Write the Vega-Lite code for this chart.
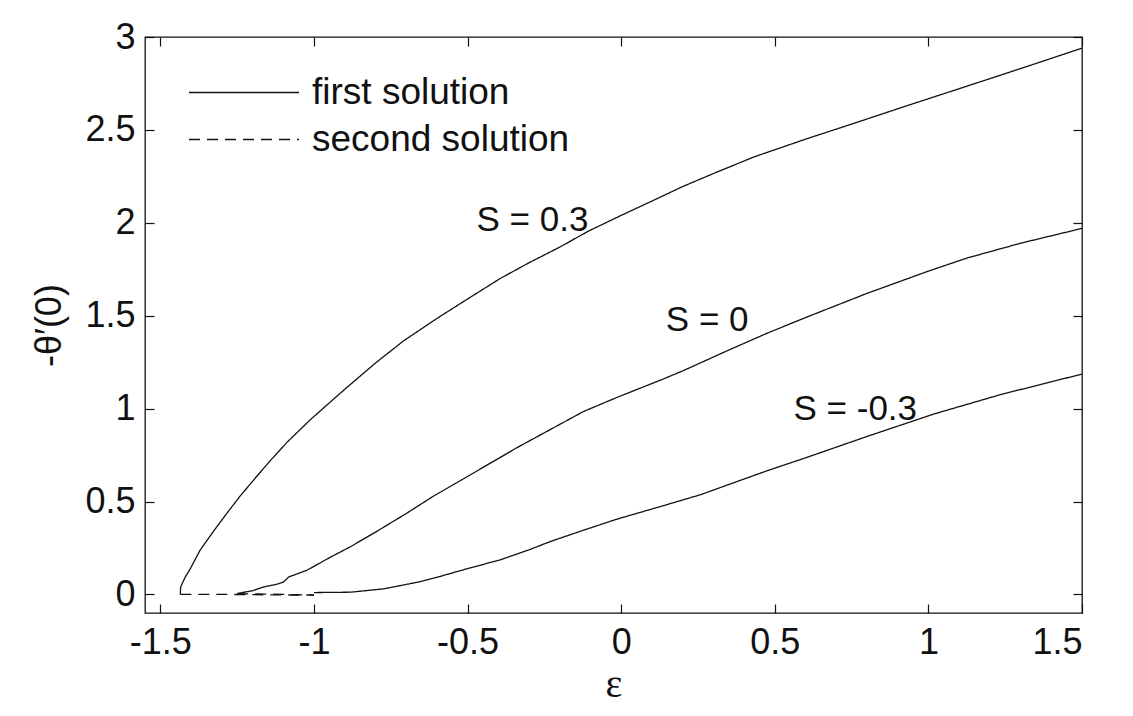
{
  "$schema": "https://vega.github.io/schema/vega-lite/v6.json",
  "width": 937,
  "height": 576,
  "autosize": "none",
  "padding": {"left": 145, "top": 37, "right": 51, "bottom": 103},
  "background": "white",
  "config": {
    "view": {"stroke": "#111111", "strokeWidth": 1.3},
    "font": "Liberation Sans",
    "axis": {
      "domain": false,
      "grid": false,
      "tickColor": "#111111",
      "tickWidth": 1.2,
      "tickSize": -9,
      "labelFont": "Liberation Sans",
      "labelFontSize": 36,
      "labelColor": "#111111",
      "titleColor": "#111111",
      "titleFontWeight": "normal"
    }
  },
  "datasets": {
    "curves": [
      {"series": "S=0.3 first", "solution": "first solution", "eps": -1.435, "theta": 0.0},
      {"series": "S=0.3 first", "solution": "first solution", "eps": -1.434, "theta": 0.04},
      {"series": "S=0.3 first", "solution": "first solution", "eps": -1.42, "theta": 0.09},
      {"series": "S=0.3 first", "solution": "first solution", "eps": -1.402, "theta": 0.14},
      {"series": "S=0.3 first", "solution": "first solution", "eps": -1.37, "theta": 0.24},
      {"series": "S=0.3 first", "solution": "first solution", "eps": -1.327, "theta": 0.34},
      {"series": "S=0.3 first", "solution": "first solution", "eps": -1.282, "theta": 0.44},
      {"series": "S=0.3 first", "solution": "first solution", "eps": -1.24, "theta": 0.53},
      {"series": "S=0.3 first", "solution": "first solution", "eps": -1.184, "theta": 0.64},
      {"series": "S=0.3 first", "solution": "first solution", "eps": -1.142, "theta": 0.72},
      {"series": "S=0.3 first", "solution": "first solution", "eps": -1.087, "theta": 0.82},
      {"series": "S=0.3 first", "solution": "first solution", "eps": -1.012, "theta": 0.94},
      {"series": "S=0.3 first", "solution": "first solution", "eps": -0.937, "theta": 1.05},
      {"series": "S=0.3 first", "solution": "first solution", "eps": -0.892, "theta": 1.115},
      {"series": "S=0.3 first", "solution": "first solution", "eps": -0.8, "theta": 1.245},
      {"series": "S=0.3 first", "solution": "first solution", "eps": -0.708, "theta": 1.365},
      {"series": "S=0.3 first", "solution": "first solution", "eps": -0.6, "theta": 1.485},
      {"series": "S=0.3 first", "solution": "first solution", "eps": -0.5, "theta": 1.59},
      {"series": "S=0.3 first", "solution": "first solution", "eps": -0.394, "theta": 1.7},
      {"series": "S=0.3 first", "solution": "first solution", "eps": -0.3, "theta": 1.785},
      {"series": "S=0.3 first", "solution": "first solution", "eps": -0.199, "theta": 1.87},
      {"series": "S=0.3 first", "solution": "first solution", "eps": -0.107, "theta": 1.955},
      {"series": "S=0.3 first", "solution": "first solution", "eps": 0.0, "theta": 2.04},
      {"series": "S=0.3 first", "solution": "first solution", "eps": 0.104, "theta": 2.12},
      {"series": "S=0.3 first", "solution": "first solution", "eps": 0.2, "theta": 2.195},
      {"series": "S=0.3 first", "solution": "first solution", "eps": 0.3, "theta": 2.265},
      {"series": "S=0.3 first", "solution": "first solution", "eps": 0.433, "theta": 2.355},
      {"series": "S=0.3 first", "solution": "first solution", "eps": 0.6, "theta": 2.45},
      {"series": "S=0.3 first", "solution": "first solution", "eps": 0.766, "theta": 2.54},
      {"series": "S=0.3 first", "solution": "first solution", "eps": 0.93, "theta": 2.63},
      {"series": "S=0.3 first", "solution": "first solution", "eps": 1.097, "theta": 2.72},
      {"series": "S=0.3 first", "solution": "first solution", "eps": 1.3, "theta": 2.83},
      {"series": "S=0.3 first", "solution": "first solution", "eps": 1.5, "theta": 2.94},

      {"series": "S=0 first", "solution": "first solution", "eps": -1.25, "theta": 0.005},
      {"series": "S=0 first", "solution": "first solution", "eps": -1.2, "theta": 0.02},
      {"series": "S=0 first", "solution": "first solution", "eps": -1.164, "theta": 0.04},
      {"series": "S=0 first", "solution": "first solution", "eps": -1.12, "theta": 0.055},
      {"series": "S=0 first", "solution": "first solution", "eps": -1.099, "theta": 0.067},
      {"series": "S=0 first", "solution": "first solution", "eps": -1.082, "theta": 0.094},
      {"series": "S=0 first", "solution": "first solution", "eps": -1.023, "theta": 0.13},
      {"series": "S=0 first", "solution": "first solution", "eps": -0.947, "theta": 0.2},
      {"series": "S=0 first", "solution": "first solution", "eps": -0.882, "theta": 0.256},
      {"series": "S=0 first", "solution": "first solution", "eps": -0.8, "theta": 0.335},
      {"series": "S=0 first", "solution": "first solution", "eps": -0.7, "theta": 0.435},
      {"series": "S=0 first", "solution": "first solution", "eps": -0.61, "theta": 0.53},
      {"series": "S=0 first", "solution": "first solution", "eps": -0.5, "theta": 0.635},
      {"series": "S=0 first", "solution": "first solution", "eps": -0.339, "theta": 0.79},
      {"series": "S=0 first", "solution": "first solution", "eps": -0.2, "theta": 0.915},
      {"series": "S=0 first", "solution": "first solution", "eps": -0.122, "theta": 0.985},
      {"series": "S=0 first", "solution": "first solution", "eps": -0.014, "theta": 1.06},
      {"series": "S=0 first", "solution": "first solution", "eps": 0.138, "theta": 1.16},
      {"series": "S=0 first", "solution": "first solution", "eps": 0.203, "theta": 1.205},
      {"series": "S=0 first", "solution": "first solution", "eps": 0.35, "theta": 1.315},
      {"series": "S=0 first", "solution": "first solution", "eps": 0.474, "theta": 1.405},
      {"series": "S=0 first", "solution": "first solution", "eps": 0.6, "theta": 1.49},
      {"series": "S=0 first", "solution": "first solution", "eps": 0.8, "theta": 1.62},
      {"series": "S=0 first", "solution": "first solution", "eps": 1.0, "theta": 1.74},
      {"series": "S=0 first", "solution": "first solution", "eps": 1.125, "theta": 1.81},
      {"series": "S=0 first", "solution": "first solution", "eps": 1.3, "theta": 1.89},
      {"series": "S=0 first", "solution": "first solution", "eps": 1.5, "theta": 1.97},

      {"series": "S=-0.3 first", "solution": "first solution", "eps": -1.0, "theta": 0.01},
      {"series": "S=-0.3 first", "solution": "first solution", "eps": -0.88, "theta": 0.012},
      {"series": "S=-0.3 first", "solution": "first solution", "eps": -0.773, "theta": 0.03},
      {"series": "S=-0.3 first", "solution": "first solution", "eps": -0.665, "theta": 0.065},
      {"series": "S=-0.3 first", "solution": "first solution", "eps": -0.6, "theta": 0.092},
      {"series": "S=-0.3 first", "solution": "first solution", "eps": -0.502, "theta": 0.138},
      {"series": "S=-0.3 first", "solution": "first solution", "eps": -0.394, "theta": 0.186},
      {"series": "S=-0.3 first", "solution": "first solution", "eps": -0.3, "theta": 0.24},
      {"series": "S=-0.3 first", "solution": "first solution", "eps": -0.23, "theta": 0.285},
      {"series": "S=-0.3 first", "solution": "first solution", "eps": -0.122, "theta": 0.346},
      {"series": "S=-0.3 first", "solution": "first solution", "eps": -0.014, "theta": 0.405},
      {"series": "S=-0.3 first", "solution": "first solution", "eps": 0.138, "theta": 0.478},
      {"series": "S=-0.3 first", "solution": "first solution", "eps": 0.257, "theta": 0.536},
      {"series": "S=-0.3 first", "solution": "first solution", "eps": 0.474, "theta": 0.665},
      {"series": "S=-0.3 first", "solution": "first solution", "eps": 0.6, "theta": 0.735},
      {"series": "S=-0.3 first", "solution": "first solution", "eps": 0.8, "theta": 0.85},
      {"series": "S=-0.3 first", "solution": "first solution", "eps": 1.016, "theta": 0.97},
      {"series": "S=-0.3 first", "solution": "first solution", "eps": 1.234, "theta": 1.075},
      {"series": "S=-0.3 first", "solution": "first solution", "eps": 1.5, "theta": 1.186},

      {"series": "S=0.3 second", "solution": "second solution", "eps": -1.435, "theta": 0.0},
      {"series": "S=0.3 second", "solution": "second solution", "eps": -1.3, "theta": 0.0},
      {"series": "S=0.3 second", "solution": "second solution", "eps": -1.2, "theta": -0.001},
      {"series": "S=0.3 second", "solution": "second solution", "eps": -1.1, "theta": -0.003},
      {"series": "S=0.3 second", "solution": "second solution", "eps": -1.0, "theta": -0.003},
      {"series": "S=0 second", "solution": "second solution", "eps": -1.25, "theta": 0.004},
      {"series": "S=0 second", "solution": "second solution", "eps": -1.1, "theta": 0.0},
      {"series": "S=0 second", "solution": "second solution", "eps": -1.0, "theta": -0.004}
    ],
    "labels": [
      {"label": "S = 0.3", "x": -0.289, "y": 2.014},
      {"label": "S = 0", "x": 0.28, "y": 1.478},
      {"label": "S = -0.3", "x": 0.762, "y": 1.0}
    ]
  },
  "layer": [
    {
      "data": {"name": "curves"},
      "mark": {"type": "line", "color": "#111111", "strokeWidth": 1.3, "clip": true},
      "encoding": {
        "x": {
          "field": "eps", "type": "quantitative",
          "scale": {"domain": [-1.55, 1.5], "nice": false, "zero": false},
          "axis": {
            "orient": "bottom",
            "values": [-1.5, -1, -0.5, 0, 0.5, 1, 1.5],
            "labelExpr": "replace(format(datum.value, '~g'), '\u2212', '-')",
            "labelPadding": 21,
            "title": "\u03b5",
            "titleFont": "Liberation Serif",
            "titleFontSize": 40,
            "titlePadding": 4
          }
        },
        "y": {
          "field": "theta", "type": "quantitative",
          "scale": {"domain": [-0.1, 3], "nice": false, "zero": false},
          "axis": {
            "orient": "left",
            "values": [0, 0.5, 1, 1.5, 2, 2.5, 3],
            "labelExpr": "format(datum.value, '~g')",
            "labelPadding": 19,
            "title": "-\u03b8\u2032(0)",
            "titleFont": "Liberation Sans",
            "titleFontSize": 36,
            "titlePadding": 16
          }
        },
        "detail": {"field": "series", "type": "nominal"},
        "strokeDash": {
          "field": "solution", "type": "nominal",
          "scale": {"domain": ["first solution", "second solution"], "range": [[1, 0], [11, 7]]},
          "legend": {
            "orient": "none",
            "legendX": 43,
            "legendY": 37,
            "title": null,
            "symbolType": "stroke",
            "symbolSize": 12100,
            "symbolStrokeWidth": 1.3,
            "symbolStrokeColor": "#111111",
            "clipHeight": 37,
            "rowPadding": 9,
            "labelFont": "Liberation Sans",
            "labelFontSize": 37,
            "labelColor": "#111111",
            "labelOffset": 12,
            "labelLimit": 400
          }
        }
      }
    },
    {
      "data": {"name": "labels"},
      "mark": {"type": "text", "font": "Liberation Sans", "fontSize": 35, "color": "#111111", "align": "center", "baseline": "middle"},
      "encoding": {
        "x": {
          "field": "x", "type": "quantitative",
          "axis": {"orient": "top", "values": [-1.5, -1, -0.5, 0, 0.5, 1, 1.5], "labels": false, "title": null}
        },
        "y": {
          "field": "y", "type": "quantitative",
          "axis": {"orient": "right", "values": [0, 0.5, 1, 1.5, 2, 2.5, 3], "labels": false, "title": null}
        },
        "text": {"field": "label", "type": "nominal"}
      }
    }
  ],
  "resolve": {"axis": {"x": "independent", "y": "independent"}}
}
